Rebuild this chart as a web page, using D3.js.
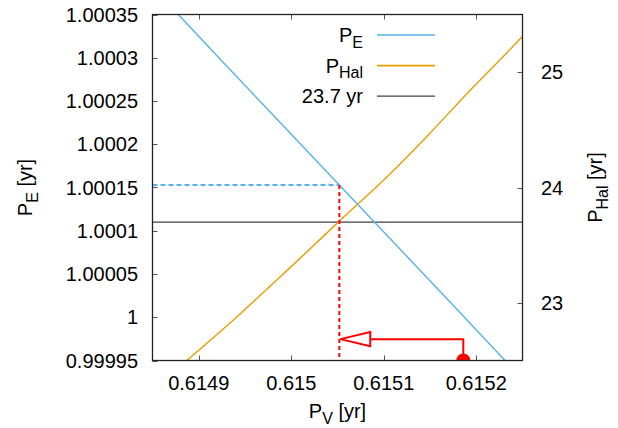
<!DOCTYPE html>
<html>
<head>
<meta charset="utf-8">
<script src="https://cdn.jsdelivr.net/npm/d3@7"></script>
<style>
  html, body { margin: 0; padding: 0; background: #fff; }
  svg { display: block; font-family: "Liberation Sans", Arial, sans-serif; }
</style>
</head>
<body>
<svg id="chart" width="618" height="428"></svg>
<script>
// ---- data ----
const xTicks = [0.6149, 0.615, 0.6151, 0.6152];
const xTickLabels = ["0.6149", "0.615", "0.6151", "0.6152"];
const yTicks = [0.99995, 1, 1.00005, 1.0001, 1.00015, 1.0002, 1.00025, 1.0003, 1.00035];
const yTickLabels = ["0.99995", "1", "1.00005", "1.0001", "1.00015", "1.0002", "1.00025", "1.0003", "1.00035"];
const y2Ticks = [23, 24, 25];
const y2TickLabels = ["23", "24", "25"];

// P_E vs P_V
const peX = [0.6148779, 0.6149230, 0.6149662, 0.6150095, 0.6150527, 0.6150959, 0.6151392, 0.6151824, 0.6152311];
const peY = [1.00035, 1.0002986, 1.0002497, 1.0002009, 1.0001520, 1.0001032, 1.0000544, 1.0000055, 0.99995];

// P_Hal vs P_V
const halX = [0.614887, 0.614945, 0.614984, 0.615017, 0.615053, 0.615100, 0.615150, 0.615194, 0.615226, 0.615250];
const halY = [22.5, 22.906, 23.196, 23.442, 23.717, 24.065, 24.471, 24.848, 25.109, 25.311];

const refHal = 23.7;          // horizontal reference (y2 units)
const crossPV = 0.615052;     // red dashed vertical
const crossPE = 1.000153;     // blue dashed horizontal
const startPV = 0.615186;     // red dot position
const arrowPE = 0.9999747;    // arrow height (y units)
const arrowBasePV = 0.6150854;// arrow head base

const legendLabels = [["P", "E"], ["P", "Hal"], ["23.7 yr", ""]];
const legendColors = ["#56b4e9", "#e69f00", "#404040"];

// ---- layout ----
const L = 152.5, R = 522.5, T = 14.5, B = 360.5;
const FS = 20;

const svg = d3.select("#chart");
const x = d3.scaleLinear().domain([0.61485, 0.61525]).range([L, R]);
const y = d3.scaleLinear().domain([0.99995, 1.00035]).range([B, T]);
const y2 = d3.scaleLinear().domain([22.5, 25.5]).range([B, T]);

svg.append("defs").append("clipPath").attr("id", "clip")
  .append("rect").attr("x", L).attr("y", T).attr("width", R - L).attr("height", B - T);

const tickColor = "#555";
const tl = 5;

const gx = svg.append("g");
xTicks.forEach((t, i) => {
  const px = Math.round(x(t)) + 0.5;
  gx.append("line").attr("x1", px).attr("x2", px).attr("y1", B).attr("y2", B - tl).attr("stroke", tickColor);
  gx.append("line").attr("x1", px).attr("x2", px).attr("y1", T).attr("y2", T + tl).attr("stroke", tickColor);
  gx.append("text").attr("x", x(t)).attr("y", 390).attr("text-anchor", "middle")
    .attr("font-size", FS).text(xTickLabels[i]);
});
yTicks.forEach((t, i) => {
  const py = Math.round(y(t)) + 0.5;
  gx.append("line").attr("x1", L).attr("x2", L + tl).attr("y1", py).attr("y2", py).attr("stroke", tickColor);
  gx.append("text").attr("x", 138).attr("y", y(t)).attr("dy", "0.36em").attr("text-anchor", "end")
    .attr("font-size", FS).text(yTickLabels[i]);
});
y2Ticks.forEach((t, i) => {
  const py = Math.round(y2(t)) + 0.5;
  gx.append("line").attr("x1", R).attr("x2", R - tl).attr("y1", py).attr("y2", py).attr("stroke", tickColor);
  gx.append("text").attr("x", 541).attr("y", y2(t)).attr("dy", "0.36em").attr("text-anchor", "start")
    .attr("font-size", FS).text(y2TickLabels[i]);
});

const plot = svg.append("g").attr("clip-path", "url(#clip)");

plot.append("line").attr("x1", L).attr("x2", R).attr("y1", y2(refHal)).attr("y2", y2(refHal))
  .attr("stroke", legendColors[2]).attr("stroke-width", 1.2);

plot.append("line").attr("x1", L).attr("x2", x(crossPV)).attr("y1", y(crossPE)).attr("y2", y(crossPE))
  .attr("stroke", "#56b4e9").attr("stroke-width", 2).attr("stroke-dasharray", "5,3");

const lineE = d3.line().x((d, i) => x(peX[i])).y((d, i) => y(peY[i]));
plot.append("path").attr("d", lineE(peX)).attr("fill", "none").attr("stroke", legendColors[0]).attr("stroke-width", 1.4);

const lineH = d3.line().curve(d3.curveMonotoneX).x((d, i) => x(halX[i])).y((d, i) => y2(halY[i]));
plot.append("path").attr("d", lineH(halX)).attr("fill", "none").attr("stroke", legendColors[1]).attr("stroke-width", 1.4);

plot.append("line").attr("x1", x(crossPV)).attr("x2", x(crossPV)).attr("y1", y(crossPE)).attr("y2", B)
  .attr("stroke", "#ff0000").attr("stroke-width", 2).attr("stroke-dasharray", "4,3");

plot.append("path")
  .attr("d", `M${x(startPV)},${B} L${x(startPV)},${y(arrowPE)} L${x(arrowBasePV)},${y(arrowPE)}`)
  .attr("fill", "none").attr("stroke", "#ff0000").attr("stroke-width", 2);
const ah = 7;
plot.append("path")
  .attr("d", `M${x(crossPV) + 1},${y(arrowPE)} L${x(arrowBasePV)},${y(arrowPE) - ah} L${x(arrowBasePV)},${y(arrowPE) + ah} Z`)
  .attr("fill", "#fff").attr("stroke", "#ff0000").attr("stroke-width", 2);

plot.append("circle").attr("cx", x(startPV)).attr("cy", y(0.99995)).attr("r", 7).attr("fill", "#ff0000");

svg.append("rect").attr("x", L).attr("y", T).attr("width", R - L).attr("height", B - T)
  .attr("fill", "none").attr("stroke", "#222").attr("stroke-width", 1.3);

const lg = svg.append("g");
legendLabels.forEach((lab, i) => {
  const ly = 35 + i * 30.6;
  const t = lg.append("text").attr("x", 363).attr("y", ly).attr("dy", "0.36em").attr("text-anchor", "end").attr("font-size", FS);
  t.append("tspan").text(lab[0]);
  if (lab[1]) t.append("tspan").attr("font-size", FS * 0.8).attr("dy", "0.35em").text(lab[1]);
  lg.append("line").attr("x1", 377).attr("x2", 435).attr("y1", ly).attr("y2", ly)
    .attr("stroke", legendColors[i]).attr("stroke-width", i === 2 ? 1.2 : 1.6);
});

const xl = svg.append("text").attr("x", (L + R) / 2).attr("y", 418).attr("text-anchor", "middle").attr("font-size", FS);
xl.append("tspan").text("P");
xl.append("tspan").attr("font-size", FS * 0.8).attr("dy", "0.35em").text("V");
xl.append("tspan").attr("dy", "-0.28em").text(" [yr]");

const yl = svg.append("text").attr("transform", `translate(32,${(T + B) / 2}) rotate(-90)`).attr("text-anchor", "middle").attr("font-size", FS);
yl.append("tspan").text("P");
yl.append("tspan").attr("font-size", FS * 0.8).attr("dy", "0.35em").text("E");
yl.append("tspan").attr("dy", "-0.28em").text(" [yr]");

const y2l = svg.append("text").attr("transform", `translate(602,${(T + B) / 2}) rotate(-90)`).attr("text-anchor", "middle").attr("font-size", FS);
y2l.append("tspan").text("P");
y2l.append("tspan").attr("font-size", FS * 0.8).attr("dy", "0.35em").text("Hal");
y2l.append("tspan").attr("dy", "-0.28em").text(" [yr]");
</script>
</body>
</html>
